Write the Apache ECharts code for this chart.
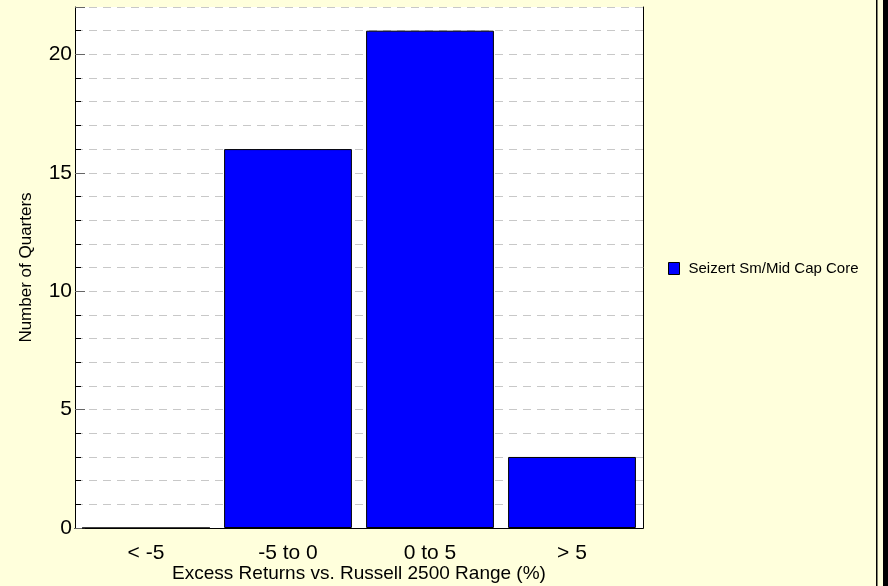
<!DOCTYPE html>
<html><head><meta charset="utf-8">
<script src="https://cdn.jsdelivr.net/npm/echarts@6/dist/echarts.min.js"></script>
<style>html,body{margin:0;padding:0;background:#FFFFDC;}#c{width:888px;height:586px;}</style>
</head><body><div id="c"></div>
<script>
const categories = ['< -5', '-5 to 0', '0 to 5', '> 5'];
const seriesName = 'Seizert Sm/Mid Cap Core';
const values = [0, 16, 21, 3];
const yTicks = [0, 5, 10, 15, 20];

const FONT = 'Liberation Sans, Arial, sans-serif';
const chart = echarts.init(document.getElementById('c'), null, {renderer: 'canvas'});
chart.setOption({
  backgroundColor: '#FFFFDC',
  animation: false,
  grid: {left: 75, right: 245, top: 7, bottom: 58, show: true, backgroundColor: '#ffffff', borderWidth: 0,
    containLabel: false, outerBoundsMode: 'none'},
  legend: {
    data: [seriesName], orient: 'vertical', left: 663, top: 256,
    itemWidth: 11, itemHeight: 12,
    icon: 'rect',
    textStyle: {fontFamily: FONT, fontSize: 15, color: '#000', padding: [0, 0, 0, 4]},
    itemStyle: {borderColor: '#000', borderWidth: 1}
  },
  xAxis: [{
    type: 'category', data: categories,
    name: 'Excess Returns vs. Russell 2500 Range (%)', nameLocation: 'middle', nameGap: 36,
    nameMoveOverlap: false,
    nameTextStyle: {fontFamily: FONT, fontSize: 19, color: '#000'},
    axisLine: {lineStyle: {color: '#000', width: 1}},
    axisTick: {alignWithLabel: true, length: 7, lineStyle: {color: '#555'}},
    axisLabel: {fontFamily: FONT, fontSize: 21, color: '#000', margin: 15}
  }, {
    type: 'category', data: categories, position: 'top',
    axisLine: {show: true, lineStyle: {color: '#000', width: 1}},
    axisTick: {show: false}, axisLabel: {show: false}, splitLine: {show: false}
  }],
  yAxis: [{
    type: 'value', min: 0, max: 22, interval: 5,
    name: 'Number of Quarters', nameLocation: 'middle', nameGap: 40,
    nameTextStyle: {fontFamily: FONT, fontSize: 17, color: '#000'},
    axisLine: {show: true, lineStyle: {color: '#000'}},
    axisTick: {show: true, inside: true, length: 10, lineStyle: {color: '#666'}},
    minorTick: {show: true, splitNumber: 5, length: 6, lineStyle: {color: '#000'}},
    axisLabel: {fontFamily: FONT, fontSize: 21, color: '#000', margin: 3,
      formatter: v => yTicks.includes(v) ? String(v) : ''},
    splitLine: {show: true, lineStyle: {color: '#c8c8c8', type: [8, 6]}},
    minorSplitLine: {show: true, lineStyle: {color: '#c8c8c8', type: [8, 6]}}
  }, {
    type: 'value', min: 0, max: 22, interval: 5, position: 'right',
    axisLine: {show: true, lineStyle: {color: '#000'}},
    axisTick: {show: false}, axisLabel: {show: false}, splitLine: {show: false}
  }],
  series: [{
    name: seriesName, type: 'bar', data: values,
    barCategoryGap: '10%',
    itemStyle: {color: '#0000FF', borderColor: '#000', borderWidth: 1}
  }],
  graphic: [
    {type: 'rect', shape: {x: 876, y: 0, width: 1.5, height: 586}, style: {fill: '#000'}},
    {type: 'rect', shape: {x: 883, y: 0, width: 5, height: 586}, style: {fill: '#000'}}
  ]
});
</script></body></html>
